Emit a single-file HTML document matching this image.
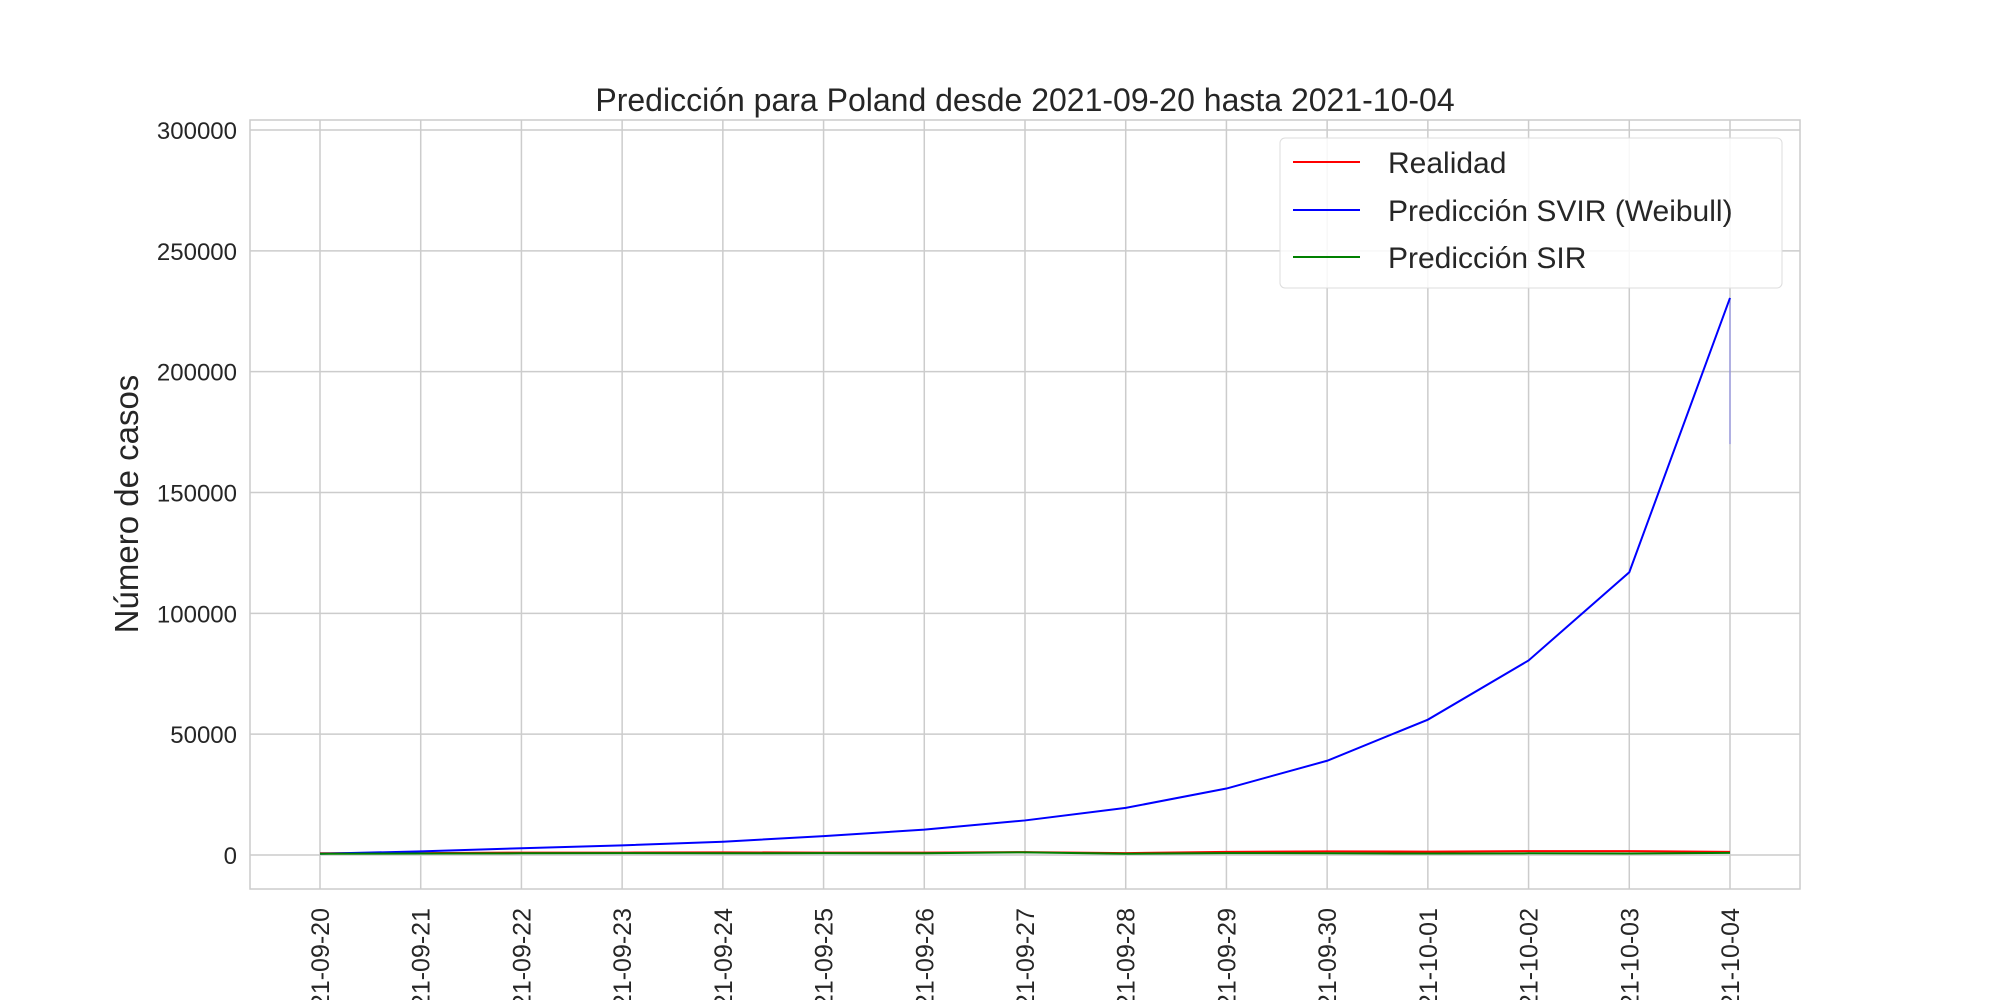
<!DOCTYPE html>
<html><head><meta charset="utf-8"><style>
body{margin:0;background:#fff;}
svg text{font-family:"Liberation Sans","DejaVu Sans",sans-serif;fill:#262626;}
</style></head><body>
<svg id="chart" width="2000" height="1000" viewBox="0 0 2000 1000">
<text x="1025" y="111" font-size="32" text-anchor="middle">Predicción para Poland desde 2021-09-20 hasta 2021-10-04</text>
<text transform="translate(138,504) rotate(-90)" font-size="33" text-anchor="middle">Número de casos</text>
<g id="grid"></g><g id="ticks"></g><g id="lines"></g>
<rect x="250" y="120" width="1550" height="769" fill="none" stroke="#ccc" stroke-width="1.5"/>
<g>
<rect x="1280" y="138" width="502" height="150" rx="5" fill="#fff" fill-opacity="0.85" stroke="#ddd"/>
<line x1="1293" y1="162" x2="1360" y2="162" stroke="#f00" stroke-width="2"/>
<text x="1388" y="173" font-size="30">Realidad</text>
<line x1="1293" y1="210" x2="1360" y2="210" stroke="#00f" stroke-width="2"/>
<text x="1388" y="221" font-size="30">Predicción SVIR (Weibull)</text>
<line x1="1293" y1="257" x2="1360" y2="257" stroke="#008000" stroke-width="2"/>
<text x="1388" y="268" font-size="30">Predicción SIR</text>
</g>
</svg>
<script>
const categories=["2021-09-20","2021-09-21","2021-09-22","2021-09-23","2021-09-24","2021-09-25","2021-09-26","2021-09-27","2021-09-28","2021-09-29","2021-09-30","2021-10-01","2021-10-02","2021-10-03","2021-10-04"];
const svirValues=[500,1500,2800,4000,5500,7800,10500,14300,19500,27500,39000,56000,80500,117000,230500];
const realValues=[700,800,1000,1000,1100,1000,1000,1200,800,1300,1500,1400,1600,1600,1300];
const sirValues=[500,600,700,800,700,800,700,1100,500,800,700,600,700,600,900];
const yTicks=[0,50000,100000,150000,200000,250000,300000];
const svirTail=170000;
const ns="http://www.w3.org/2000/svg";
const x=i=>320+i*(1730-320)/(categories.length-1);
const y=v=>855-v*(855-130)/300000;
function mk(t,a,p){const e=document.createElementNS(ns,t);for(const k in a)e.setAttribute(k,a[k]);p.appendChild(e);return e;}
const grid=document.getElementById('grid'),ticks=document.getElementById('ticks'),lines=document.getElementById('lines');
yTicks.forEach(v=>{
 const l=mk('line',{x1:250,x2:1800,y1:y(v),y2:y(v),stroke:'#ccc','stroke-width':1.5},grid);
 
 
 const t=mk('text',{x:237,y:y(v)+9,'font-size':24,'text-anchor':'end'},ticks);t.textContent=v;
 
 
});
categories.forEach((c,i)=>{
 const l=mk('line',{x1:x(i),x2:x(i),y1:120,y2:889,stroke:'#ccc','stroke-width':1.5},grid);
 
 
 const t=mk('text',{transform:`translate(${x(i)+9},908) rotate(-90)`,'font-size':25,'text-anchor':'end'},ticks);t.textContent=c;
 
 
});
function series(vals,col,name){
 const p=mk('polyline',{points:vals.map((v,i)=>x(i)+','+y(v)).join(' '),fill:'none',stroke:col,'stroke-width':2},lines);
 
 
}
series(realValues,'#f00','realidad-line');
series(svirValues,'#00f','svir-line');
series(sirValues,'#008000','sir-line');
const tail=mk('line',{x1:x(14),x2:x(14),y1:y(svirValues[14]),y2:y(svirTail),stroke:'#00f','stroke-opacity':0.4,'stroke-width':1},lines);


</script>
</body></html>
